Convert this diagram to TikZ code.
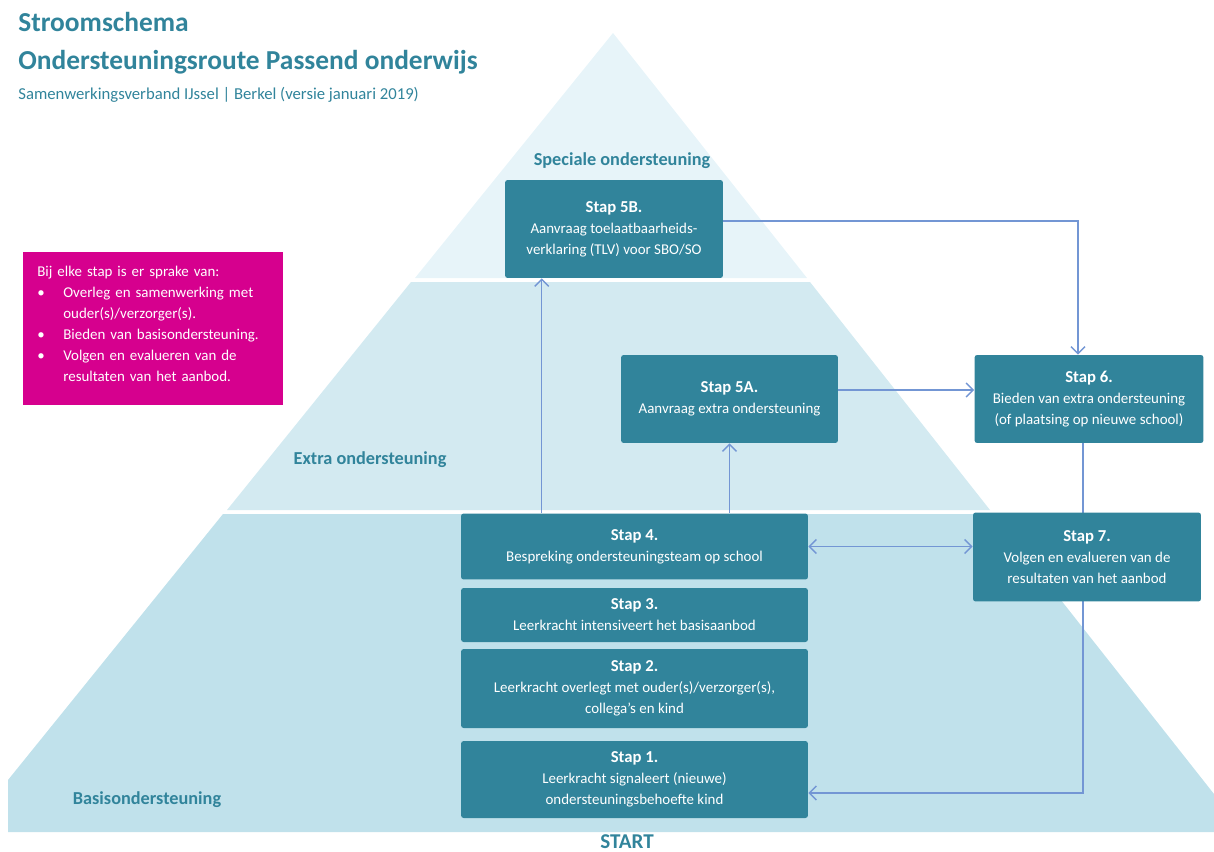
\documentclass[tikz,border=0pt]{standalone}
\usepackage{fontspec}
\setmainfont{Carlito}
\usepackage{tikz}
\usetikzlibrary{arrows.meta, positioning, backgrounds}

\definecolor{stapteal}{RGB}{49,132,155}
\definecolor{roze}{RGB}{214,0,142}
\definecolor{laag1}{RGB}{231,244,249}
\definecolor{laag2}{RGB}{211,234,241}
\definecolor{laag3}{RGB}{192,225,235}
\definecolor{pijl}{RGB}{115,150,212}

\newcommand{\stapkop}[1]{{\fontsize{9.5}{12}\selectfont\bfseries #1}}

\begin{document}
\begin{tikzpicture}[x=0.02cm, y=-0.02cm,
        >={Straight Barb[length=4pt,width=8pt]},
        stapbox/.style={fill=stapteal, text=white, rounded corners=1.5pt, align=center, inner sep=2pt, font=\fontsize{8.5}{12}\selectfont},
        flow/.style={draw=pijl, line width=0.8pt},
        laag/.style={text=stapteal, font=\fontsize{10.4}{12}\selectfont\bfseries}]
        \useasboundingbox (0,0) rectangle (1214,852);

        % Pyramid (three bands)
        \begin{scope}[on background layer]
        \fill[laag1] (613,33) -- (415,278) -- (807,278) -- cycle;
        \fill[laag2] (411,282) -- (227,510) -- (990,510) -- (810,282) -- cycle;
        \fill[laag3] (223,514) -- (8,780) -- (8,832) -- (1214,832) -- (1214,794) -- (993,514) -- cycle;
        \end{scope}

        % Title
        \node[anchor=west, inner sep=0pt, text=stapteal, font=\fontsize{15.6}{18}\selectfont\bfseries] (titel) at (18,22) {Stroomschema};
        \node[anchor=west, inner sep=0pt, text=stapteal, font=\fontsize{15.6}{18}\selectfont\bfseries] (ondertitel) at (18,62) {Ondersteuningsroute Passend onderwijs};
        \node[anchor=west, inner sep=0pt, text=stapteal, font=\fontsize{9.5}{11}\selectfont] (versie) at (18,95) {Samenwerkingsverband IJssel | Berkel (versie januari 2019)};

        % Legend (magenta box)
        \node[anchor=north west, fill=roze, text=white, minimum width=5.2cm, minimum height=3.06cm, inner xsep=0.28cm, text width=4.64cm, align=left, font=\fontsize{8.5}{11.9}\selectfont] (legenda) at (23,252) {%
            \begin{tabular}{@{}p{0.52cm}@{}l@{}}
            \multicolumn{2}{@{}l@{}}{Bij elke stap is er sprake van:}\\
            \textbullet & Overleg en samenwerking met\\
             & ouder(s)/verzorger(s).\\
            \textbullet & Bieden van basisondersteuning.\\
            \textbullet & Volgen en evalueren van de\\
             & resultaten van het aanbod.\\[4.5pt]
            \end{tabular}};

        % Band labels
        \node[laag] (speciaal) at (622,161) {Speciale ondersteuning};
        \node[laag] (extra) at (370,460) {Extra ondersteuning};
        \node[laag] (basis) at (147,800) {Basisondersteuning};
        \node[laag, inner sep=0pt, font=\fontsize{12}{14}\selectfont\bfseries] (start) at (627,842) {START};

        % Steps
        \node[stapbox, minimum width=4.36cm, minimum height=1.96cm] (stap5b) at (614,229) {\stapkop{Stap 5B.}\\Aanvraag toelaatbaarheids-\\verklaring (TLV) voor SBO/SO};
        \node[stapbox, minimum width=4.34cm, minimum height=1.76cm] (stap5a) at (729.5,399) {\stapkop{Stap 5A.}\\Aanvraag extra ondersteuning};
        \node[stapbox, minimum width=4.58cm, minimum height=1.76cm] (stap6) at (1089,399) {\stapkop{Stap 6.}\\Bieden van extra ondersteuning\\(of plaatsing op nieuwe school)};
        \node[stapbox, minimum width=6.94cm, minimum height=1.32cm] (stap4) at (634.5,546.5) {\stapkop{Stap 4.}\\Bespreking ondersteuningsteam op school};
        \node[stapbox, minimum width=4.56cm, minimum height=1.78cm] (stap7) at (1087,557) {\stapkop{Stap 7.}\\Volgen en evalueren van de\\resultaten van het aanbod};
        \node[stapbox, minimum width=6.94cm, minimum height=1.08cm] (stap3) at (634.5,615) {\stapkop{Stap 3.}\\Leerkracht intensiveert het basisaanbod};
        \node[stapbox, minimum width=6.94cm, minimum height=1.58cm] (stap2) at (634.5,688.5) {\stapkop{Stap 2.}\\Leerkracht overlegt met ouder(s)/verzorger(s),\\collega’s en kind};
        \node[stapbox, minimum width=6.94cm, minimum height=1.54cm] (stap1) at (634.5,779.5) {\stapkop{Stap 1.}\\Leerkracht signaleert (nieuwe)\\ondersteuningsbehoefte kind};

        % Connectors
        \coordinate (voet5b) at ([xshift=1.62cm]stap4.north west);
        \draw[flow, ->] (voet5b) -- (voet5b |- stap5b.south);
        \draw[flow, ->] (stap4.north -| stap5a.south) -- (stap5a.south);
        \coordinate (uit5a) at ([yshift=0.18cm]stap5a.east);
        \draw[flow, ->] (uit5a) -- (uit5a -| stap6.west);
        \coordinate (uit5b) at ([yshift=0.16cm]stap5b.east);
        \coordinate (in6) at ([xshift=-0.22cm]stap6.north);
        \draw[flow, ->] (uit5b) -| (in6);
        \draw[flow, <->] (stap4.east) -- (stap4.east -| stap7.west);

        % Stap 6 back to Stap 1 (behind Stap 7)
        \begin{scope}[on background layer]
        \draw[flow, ->] ([xshift=-0.12cm]stap6.south) |- ([yshift=-0.27cm]stap1.east);
        \end{scope}
\end{tikzpicture}
\end{document}
